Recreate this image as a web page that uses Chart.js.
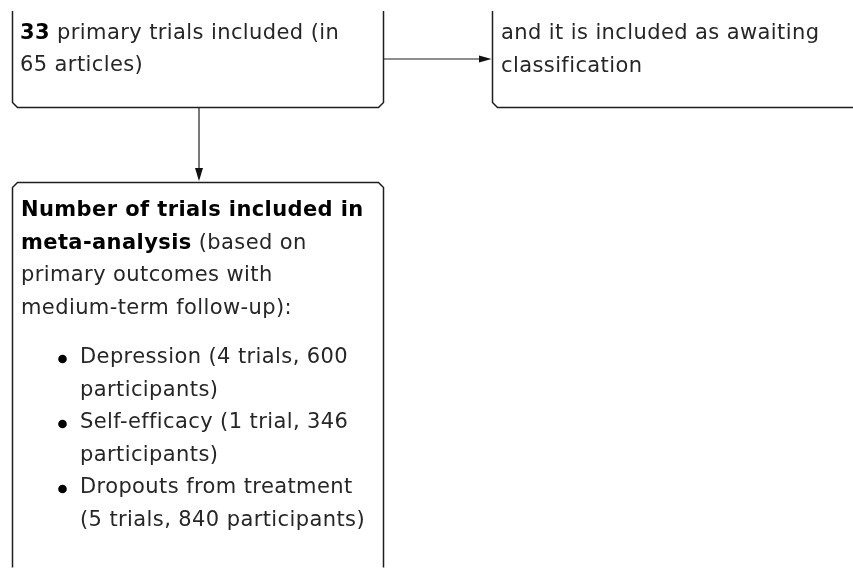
<!DOCTYPE html>
<html><head><meta charset="utf-8">
<script src="https://cdn.jsdelivr.net/npm/chart.js@4/dist/chart.umd.min.js"></script>
<style>html,body{margin:0;padding:0;background:#fff;overflow:hidden}canvas{display:block}</style>
</head><body>
<canvas id="c" width="853" height="568"></canvas>
<script>
// ---- data ----
const includedTrials = [33];
const includedArticles = [65];
const awaitingText = ['and it is included as awaiting', 'classification'];
const outcomeNames = ['Depression', 'Self-efficacy', 'Dropouts from treatment'];
const outcomeTrials = [4, 1, 5];
const outcomeParticipants = [600, 346, 840];

const FONT = '"DejaVu Sans", sans-serif';
const FS = 21;
const LS = '0.4px';
const LH = 32.5;

function setFont(ctx, b) {
  ctx.font = (b ? 'bold ' : '') + FS + 'px ' + FONT;
  ctx.letterSpacing = LS;
}
function drawRuns(ctx, runs, x, y) {
  for (const [t, b] of runs) {
    setFont(ctx, b);
    ctx.fillStyle = b ? '#000' : '#262626';
    ctx.fillText(t, x, y);
    x += ctx.measureText(t).width;
  }
}
function wrap(ctx, text, maxW) {
  setFont(ctx, false);
  const words = text.split(' ');
  const lines = []; let cur = '';
  for (const w of words) {
    const t = cur ? cur + ' ' + w : w;
    if (ctx.measureText(t).width > maxW && cur) { lines.push(cur); cur = w; } else cur = t;
  }
  if (cur) lines.push(cur);
  return lines;
}
function box(ctx, l, t, r, b, rad) {
  ctx.beginPath();
  ctx.moveTo(l + rad, t);
  ctx.lineTo(r - rad, t); ctx.lineTo(r, t + rad);
  ctx.lineTo(r, b - rad); ctx.lineTo(r - rad, b);
  ctx.lineTo(l + rad, b); ctx.lineTo(l, b - rad);
  ctx.lineTo(l, t + rad); ctx.closePath();
  ctx.stroke();
}

const flowPlugin = {
  id: 'flow',
  afterDraw(chart) {
    const ctx = chart.ctx;
    const X = v => chart.scales.x.getPixelForValue(v);
    const Y = v => chart.scales.y.getPixelForValue(v);
    ctx.save();
    ctx.fillStyle = '#fff';
    ctx.fillRect(0, 0, chart.width, chart.height);
    ctx.strokeStyle = '#1e1e1e';
    ctx.lineWidth = 1.5;
    ctx.textBaseline = 'middle';

    // clipped top boxes
    ctx.save();
    ctx.beginPath(); ctx.rect(0, Y(11), chart.width, chart.height); ctx.clip();
    box(ctx, X(12.5), Y(-60), X(383.5), Y(107.5), 5);
    box(ctx, X(492.5), Y(-60), X(900), Y(107.5), 5);
    ctx.restore();

    // box 1 text
    drawRuns(ctx, [[String(includedTrials[0]), true], [' primary trials included (in', false]], X(20), Y(34));
    drawRuns(ctx, [[includedArticles[0] + ' articles)', false]], X(20), Y(66));
    // box 2 text
    awaitingText.forEach((t, i) => drawRuns(ctx, [[t, false]], X(501), Y(34 + i * LH)));

    // connectors
    ctx.lineWidth = 1.2;
    ctx.beginPath(); ctx.moveTo(X(384), Y(59)); ctx.lineTo(X(483), Y(59)); ctx.stroke();
    ctx.beginPath(); ctx.moveTo(X(199), Y(108)); ctx.lineTo(X(199), Y(171)); ctx.stroke();
    ctx.fillStyle = '#111';
    ctx.beginPath(); ctx.moveTo(X(479), Y(55.5)); ctx.lineTo(X(491.5), Y(59)); ctx.lineTo(X(479), Y(62.5)); ctx.closePath(); ctx.fill();
    ctx.beginPath(); ctx.moveTo(X(195), Y(168)); ctx.lineTo(X(199), Y(181)); ctx.lineTo(X(203), Y(168)); ctx.closePath(); ctx.fill();

    // box 3
    ctx.lineWidth = 1.5;
    ctx.save();
    ctx.beginPath(); ctx.rect(0, 0, chart.width, Y(567.5)); ctx.clip();
    box(ctx, X(12.5), Y(182.5), X(383.5), Y(640), 5);
    ctx.restore();

    const head = [
      [['Number of trials included in', true]],
      [['meta-analysis', true], [' (based on', false]],
      [['primary outcomes with', false]],
      [['medium-term follow-up):', false]]
    ];
    head.forEach((runs, i) => drawRuns(ctx, runs, X(21), Y(211 + i * LH)));

    let y = 358;
    outcomeNames.forEach((n, i) => {
      const t = outcomeTrials[i];
      const txt = n + ' (' + t + (t > 1 ? ' trials' : ' trial') + ', ' + outcomeParticipants[i] + ' participants)';
      const lines = wrap(ctx, txt, 288);
      ctx.fillStyle = '#000';
      ctx.beginPath(); ctx.arc(X(62.5), Y(y + 1), 4.3, 0, Math.PI * 2); ctx.fill();
      lines.forEach(l => { drawRuns(ctx, [[l, false]], X(80), Y(y)); y += LH; });
    });
    ctx.restore();
  }
};

new Chart(document.getElementById('c'), {
  type: 'scatter',
  data: { datasets: [] },
  options: {
    responsive: false,
    animation: false,
    events: [],
    layout: { padding: 0 },
    plugins: { legend: { display: false }, tooltip: { enabled: false } },
    scales: {
      x: { type: 'linear', min: 0, max: 853, display: false },
      y: { type: 'linear', min: 0, max: 568, reverse: true, display: false }
    }
  },
  plugins: [flowPlugin]
});
</script>
</body></html>
